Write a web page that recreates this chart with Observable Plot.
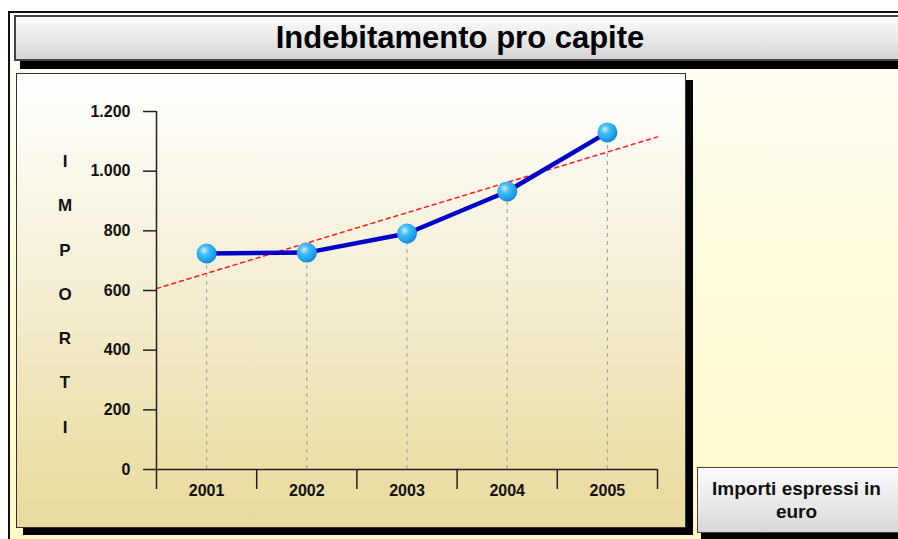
<!DOCTYPE html>
<html>
<head>
<meta charset="utf-8">
<script src="https://cdn.jsdelivr.net/npm/d3@7"></script>
<script src="https://cdn.jsdelivr.net/npm/@observablehq/plot@0.6"></script>
<style>
  html, body { margin: 0; padding: 0; background: #ffffff; width: 898px; height: 539px; overflow: hidden; position: relative; }
  .abs { position: absolute; box-sizing: border-box; }
  #frame { left: 8px; top: 11px; width: 900px; height: 540px; border-left: 2px solid #111; border-top: 2px solid #111;
           background: linear-gradient(to bottom, #fdfdf6 0%, #fffbd6 60%, #fff9c8 100%); }
  #titlebox { left: 14px; top: 15px; width: 900px; height: 46px; border: 2px solid #444;
              background: linear-gradient(to bottom, #fbfbfb 0%, #e6e6e6 60%, #d4d4d4 100%);
              box-shadow: 6px 8px 0 #000; display: flex; align-items: center; justify-content: center; }
  #titlebox span { font-family: "Liberation Sans Narrow", "Arial Narrow", "Liberation Sans", sans-serif; font-weight: bold; font-size: 31px; color: #000; margin-left: -8px; margin-right: 0; }
  #panel { left: 16px; top: 73px; width: 670px; height: 455px; border: 1.5px solid #333;
           background: linear-gradient(to bottom, #ffffff 0%, #f5efd6 45%, #ecdfa8 85%, #e9da9e 100%);
           box-shadow: 7px 7px 0 #000; }
  #unitbox { left: 697px; top: 467px; width: 205px; height: 66px; border: 1.5px solid #444;
             background: linear-gradient(to bottom, #fbfbfb 0%, #e8e8e8 60%, #d6d6d6 100%);
             box-shadow: 4px 6px 0 #000; display: flex; align-items: center; justify-content: center; text-align: center;
             font-family: "Liberation Sans Narrow", "Arial Narrow", "Liberation Sans", sans-serif; font-weight: bold; font-size: 19px; line-height: 23px; color: #111; padding-right: 6px; }
  #ylabel { left: 50px; top: 140px; width: 30px; text-align: center; font-family: "Liberation Sans", Arial, sans-serif; font-weight: bold; font-size: 17px; line-height: 44.3px; color: #111; }
  #chart { left: 0; top: 0; }
</style>
</head>
<body>
<div id="frame" class="abs"></div>
<div id="titlebox" class="abs"><span id="title"></span></div>
<div id="panel" class="abs"></div>
<div id="unitbox" class="abs"></div>
<div id="ylabel" class="abs"></div>
<div id="chart" class="abs"></div>
<script>
// ---- data ----
const title = "Indebitamento pro capite";
const unitNote = "Importi espressi in euro";
const yAxisLabel = "IMPORTI";
const years = ["2001", "2002", "2003", "2004", "2005"];
const values = [724, 727, 791, 932, 1130];
const yTicks = [0, 200, 400, 600, 800, 1000, 1200];

document.getElementById("title").textContent = title;
document.getElementById("unitbox").textContent = unitNote;
document.getElementById("ylabel").innerHTML = yAxisLabel.split("").map(c => `<div>${c}</div>`).join("");

const data = years.map((yr, i) => ({idx: i + 1, year: yr, value: values[i]}));

// linear trend (least squares) through the data
const mx = d3.mean(data, d => d.idx), my = d3.mean(data, d => d.value);
const slope = d3.sum(data, d => (d.idx - mx) * (d.value - my)) / d3.sum(data, d => (d.idx - mx) ** 2);
const intercept = my - slope * mx;
const xLo = 0.5, xHi = years.length + 0.5;
const trend = [xLo, xHi].map(x => ({idx: x, value: intercept + slope * x}));
const bandEdges = d3.range(xLo, xHi + 0.01, 1);

const itFormat = d3.formatLocale({decimal: ",", thousands: ".", grouping: [3], currency: ["", "€"]}).format(",d");
const axisFont = "Liberation Sans, Arial, sans-serif";

const chart = Plot.plot({
  width: 898,
  height: 539,
  marginLeft: 156,
  marginRight: 241,
  marginTop: 111,
  marginBottom: 70,
  style: {background: "transparent", fontFamily: axisFont, fontSize: "16px", fontWeight: "bold", color: "#111", overflow: "visible"},
  x: {type: "linear", domain: [xLo, xHi]},
  y: {domain: [0, 1200]},
  marks: [
    // dashed drop lines from each point to the axis
    Plot.ruleX(data, {x: "idx", y1: 0, y2: "value", stroke: "#a8a8b0", strokeWidth: 1.2, strokeDasharray: "4 4"}),
    // trend line
    Plot.line(trend, {x: "idx", y: "value", stroke: "#ff1a1a", strokeWidth: 1.5, strokeDasharray: "4 4"}),
    // y axis
    Plot.axisY({ticks: yTicks, tickSize: 13, tickPadding: 13, tickFormat: itFormat, stroke: "#222", strokeWidth: 1.5, label: null}),
    Plot.ruleX([xLo], {y1: 0, y2: 1200, stroke: "#222", strokeWidth: 1.5}),
    // x axis
    Plot.ruleY([0], {stroke: "#222", strokeWidth: 1.5}),
    Plot.axisX({ticks: bandEdges, tickSize: 20, tickFormat: () => "", stroke: "#222", strokeWidth: 1.5, label: null}),
    Plot.axisX({ticks: d3.range(1, years.length + 1), tickSize: 0, tickPadding: 15, tickFormat: i => years[i - 1], label: null}),
    // series
    Plot.line(data, {x: "idx", y: "value", stroke: "#0000c8", strokeWidth: 4.5}),
    Plot.dot(data, {x: "idx", y: "value", r: 10, fill: "url(#ball)", stroke: "none"})
  ]
});

// sphere gradient for markers
const defs = d3.select(chart).insert("defs", ":first-child");
const g = defs.append("radialGradient").attr("id", "ball").attr("cx", "0.38").attr("cy", "0.35").attr("r", "0.65");
g.append("stop").attr("offset", "0%").attr("stop-color", "#c9f0ff");
g.append("stop").attr("offset", "35%").attr("stop-color", "#45bdf6");
g.append("stop").attr("offset", "80%").attr("stop-color", "#1ea0ea");
g.append("stop").attr("offset", "100%").attr("stop-color", "#1587d6");

document.getElementById("chart").appendChild(chart);
</script>
</body>
</html>
